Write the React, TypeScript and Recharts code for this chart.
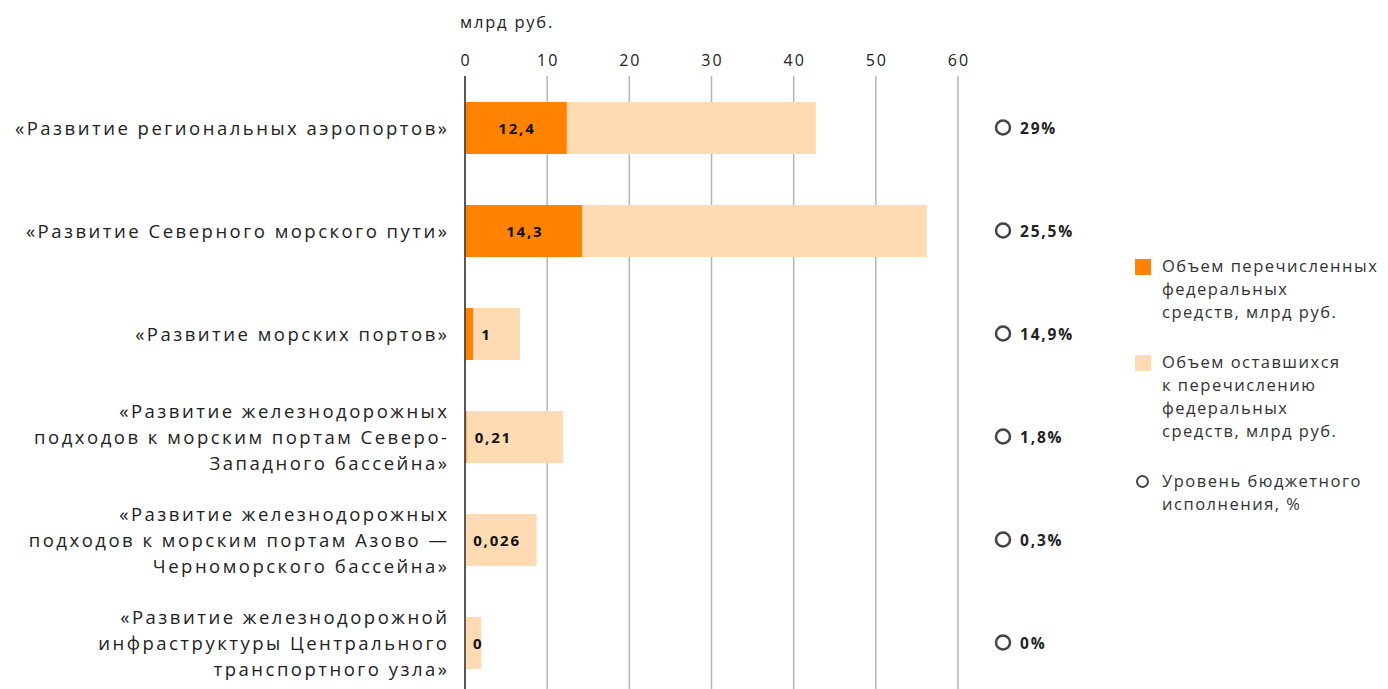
import React from 'react';
import { BarChart, Bar, XAxis, YAxis, CartesianGrid, LabelList } from 'recharts';

const categories = [
  '«Развитие региональных аэропортов»',
  '«Развитие Северного морского пути»',
  '«Развитие морских портов»',
  '«Развитие железнодорожных\nподходов к морским портам Северо-\nЗападного бассейна»',
  '«Развитие железнодорожных\nподходов к морским портам Азово —\nЧерноморского бассейна»',
  '«Развитие железнодорожной\nинфраструктуры Центрального\nтранспортного узла»',
];
const transferred = [12.4, 14.3, 1, 0.21, 0.026, 0];
const remaining = [30.3, 41.9, 5.7, 11.7, 8.7, 2.0];
const executionPct = [29, 25.5, 14.9, 1.8, 0.3, 0];
const xTicks = [0, 10, 20, 30, 40, 50, 60];

const legendItems = [
  { kind: 'square', color: '#FF8200', lines: ['Объем перечисленных', 'федеральных', 'средств, млрд руб.'] },
  { kind: 'square', color: '#FFDBB4', lines: ['Объем оставшихся', 'к перечислению', 'федеральных', 'средств, млрд руб.'] },
  { kind: 'circle', color: '#444', lines: ['Уровень бюджетного', 'исполнения, %'] },
];

const fmt = (v: number) => String(v).replace('.', ',');

const data = categories.map((name, i) => ({
  name,
  transferred: transferred[i],
  remaining: remaining[i],
  pctLabel: fmt(executionPct[i]) + '%',
}));

const FONT = '"Open Sans", sans-serif';
const ORANGE = '#FF8200';
const LIGHT = '#FFDBB4';

const CategoryTick = (props: any) => {
  const { x, y, payload } = props;
  const lines = String(payload.value).split('\n');
  const lh = 26;
  const startDy = -((lines.length - 1) * lh) / 2;
  return (
    <text x={x} y={y} textAnchor="end" fill="#222" fontFamily={FONT} fontSize={18.5} letterSpacing={2.5}>
      {lines.map((l, i) => (
        <tspan key={i} x={x} dy={i === 0 ? startDy : lh} dominantBaseline="central">
          {l}
        </tspan>
      ))}
    </text>
  );
};

const XTick = (props: any) => {
  const { x, y, payload } = props;
  return (
    <text x={x + 1} y={y} textAnchor="middle" fill="#222" fontFamily={FONT} fontSize={16} letterSpacing={2}>
      {payload.value}
    </text>
  );
};

const PctTick = (props: any) => {
  const { x, y, payload } = props;
  return (
    <g>
      <circle cx={x + 45} cy={y} r={7} fill="none" stroke="#444" strokeWidth={2.5} />
      <text x={x + 62} y={y} dominantBaseline="central" fill="#222" fontFamily={FONT} fontSize={15.5} fontWeight={700} letterSpacing={1.8}>
        {payload.value}
      </text>
    </g>
  );
};

const labelText = (tx: number, ty: number, anchor: string, v: number) => (
  <text
    x={tx}
    y={ty}
    textAnchor={anchor as any}
    dominantBaseline="central"
    fill="#111"
    fontFamily={FONT}
    fontSize={15}
    fontWeight={700}
    letterSpacing={1.8}
  >
    {fmt(v)}
  </text>
);

const ValueLabel = (props: any) => {
  const { x, y, width, height, value } = props;
  const big = width > 50;
  return big
    ? labelText(x + width / 2 + 1, y + height / 2, 'middle', value)
    : labelText(x + width + 8, y + height / 2, 'start', value);
};

const ZeroLabel = (props: any) => {
  const { x, y, height, index } = props;
  if (transferred[index] !== 0) return null;
  return labelText(x + 8, y + height / 2, 'start', transferred[index]);
};

export default function App() {
  return (
    <div style={{ position: 'relative', width: 1380, height: 690, fontFamily: FONT }}>
      <div
        style={{
          position: 'absolute',
          left: 452,
          top: 3,
          fontSize: 16.5,
          lineHeight: '22px',
          color: '#222',
          letterSpacing: 1.8,
        }}
      >
        млрд руб.
      </div>
      <BarChart
        width={1380}
        height={690}
        data={data}
        layout="vertical"
        margin={{ top: 20, right: 0, left: 0, bottom: 4 }}
        barSize={52}
      >
        <CartesianGrid horizontal={false} vertical stroke="#b5b5b5" strokeWidth={1.5} />
        <XAxis
          type="number"
          orientation="top"
          domain={[0, 60]}
          ticks={xTicks}
          height={48}
          axisLine={false}
          tickLine={false}
          tickSize={0}
          tickMargin={10}
          tick={<XTick />}
        />
        <YAxis
          type="category"
          dataKey="name"
          width={457}
          tickLine={false}
          tickSize={0}
          tickMargin={15.5}
          axisLine={{ stroke: '#333', strokeWidth: 1.5 }}
          tick={<CategoryTick />}
          interval={0}
        />
        <YAxis
          yAxisId="right"
          type="category"
          dataKey="pctLabel"
          orientation="right"
          width={430}
          tickLine={false}
          tickSize={0}
          tickMargin={0}
          axisLine={false}
          tick={<PctTick />}
          interval={0}
        />
        <Bar dataKey="transferred" stackId="a" fill={ORANGE} isAnimationActive={false}>
          <LabelList dataKey="transferred" content={<ValueLabel />} />
        </Bar>
        <Bar dataKey="remaining" stackId="a" fill={LIGHT} isAnimationActive={false}>
          <LabelList dataKey="remaining" content={<ZeroLabel />} />
        </Bar>
      </BarChart>
      <div style={{ position: 'absolute', left: 1127, top: 246, color: '#333', fontSize: 16.5, lineHeight: '23px', letterSpacing: 1.5 }}>
        {legendItems.map((it, i) => (
          <div key={i} style={{ display: 'flex', alignItems: 'flex-start', marginBottom: 27 }}>
            <div style={{ width: 27, flex: 'none', paddingTop: 5 }}>
              {it.kind === 'square' ? (
                <div style={{ width: 16, height: 16, background: it.color }} />
              ) : (
                <div style={{ width: 9, height: 9, border: '2.5px solid ' + it.color, borderRadius: '50%', marginLeft: 1, marginTop: 1 }} />
              )}
            </div>
            <div style={{ whiteSpace: 'nowrap' }}>
              {it.lines.map((l, j) => (
                <div key={j}>{l}</div>
              ))}
            </div>
          </div>
        ))}
      </div>
    </div>
  );
}
